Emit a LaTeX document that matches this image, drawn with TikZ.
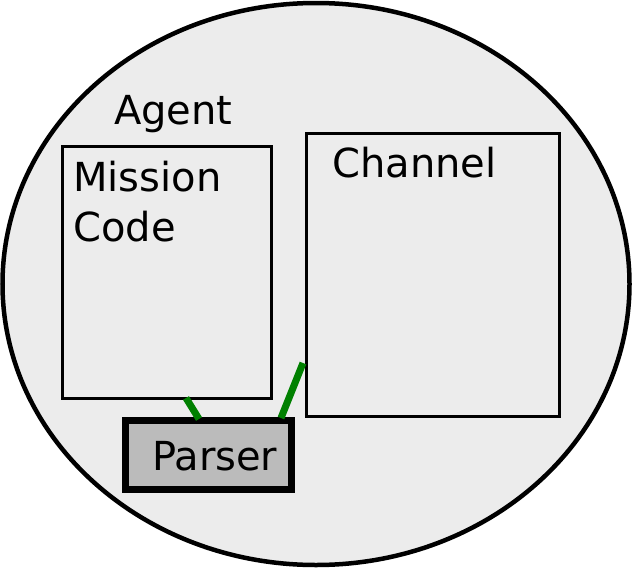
\documentclass[tikz,border=0pt]{standalone}
\usepackage{fontspec}
\setmainfont{DejaVu Sans}
\definecolor{bgray}{HTML}{ECECEC}
\definecolor{pgray}{HTML}{BBBBBB}
\definecolor{lgreen}{HTML}{008000}
\begin{document}
\begin{tikzpicture}[x=1pt,y=-1pt,
  lbl/.style={anchor=base west,inner sep=0pt,font=\fontsize{40}{49}\selectfont},
  box/.style={draw=black,line width=3pt,fill=bgray},
  link/.style={draw=lgreen,line width=7pt}]
\useasboundingbox (0,0) rectangle (632,568);
\draw[fill=bgray,line width=4.5pt] (316,284) ellipse [x radius=313.5, y radius=281];
\path[box] (62.5,146) rectangle (271,398);
\path[box] (306,133) rectangle (559,416);
\draw[fill=pgray,line width=7pt] (125.5,420.5) rectangle (291.5,489.5);
\node[lbl] (agent) at (114,124) {Agent};
\node[lbl] (mission) at (73,191) {Mission};
\node[lbl] (code) at (73,241) {Code};
\node[lbl] (channel) at (332,177) {Channel};
\node[lbl] (parser) at (152,470) {Parser};
\coordinate (a1) at (186,398);
\coordinate (a2) at (199,419);
\coordinate (b1) at (303,363);
\coordinate (b2) at (281,418);
\path[link] (a1) -- (a2);
\path[link] (b1) -- (b2);
\end{tikzpicture}
\end{document}
